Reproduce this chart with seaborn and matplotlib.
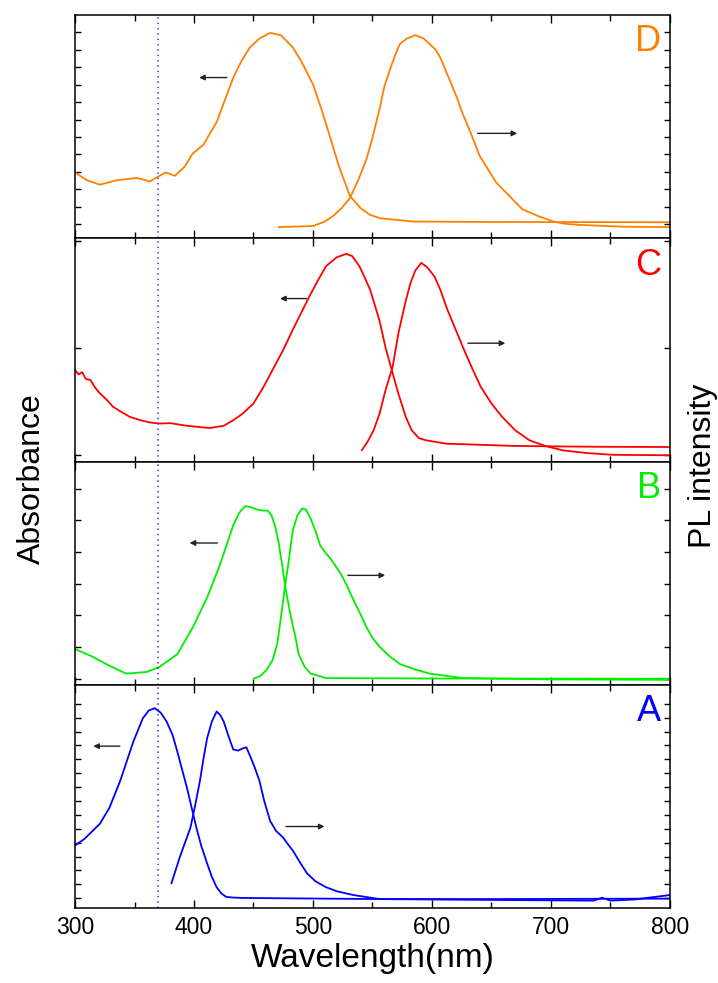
import numpy as np
import matplotlib
matplotlib.use('Agg')
import matplotlib.pyplot as plt
import seaborn as sns

# wavelength (nm) / normalised intensity (0 = panel bottom, 1 = panel top)
d_abs_x = [300, 310, 321, 335, 352, 363, 376, 384, 392, 399, 408, 419, 426, 433, 440, 447, 455, 464, 473, 483, 490, 500, 507, 514, 522, 531, 540, 548, 556, 584, 650, 800]
d_abs_y = [0.295, 0.26, 0.24, 0.26, 0.27, 0.255, 0.295, 0.28, 0.32, 0.38, 0.42, 0.52, 0.62, 0.72, 0.795, 0.855, 0.895, 0.92, 0.91, 0.855, 0.795, 0.69, 0.58, 0.46, 0.32, 0.19, 0.135, 0.105, 0.09, 0.075, 0.073, 0.072]
d_pl_x = [471, 500, 510, 517, 524, 531, 538, 545, 550, 556, 560, 565, 569, 573, 579, 586, 593, 598, 603, 607, 614, 621, 626, 632, 640, 647, 654, 665, 676, 689, 702, 712, 724, 760, 800]
d_pl_y = [0.05, 0.055, 0.075, 0.1, 0.135, 0.18, 0.26, 0.355, 0.45, 0.58, 0.68, 0.76, 0.82, 0.87, 0.895, 0.91, 0.895, 0.87, 0.845, 0.81, 0.72, 0.63, 0.555, 0.48, 0.37, 0.31, 0.25, 0.19, 0.13, 0.10, 0.075, 0.065, 0.06, 0.052, 0.05]

c_abs_x = [300, 303, 306, 309, 313, 317, 321, 326, 332, 338, 346, 355, 363, 371, 380, 394, 413, 425, 433, 441, 450, 458, 466, 475, 483, 490, 497, 504, 511, 520, 528, 533, 539, 543, 548, 552, 556, 561, 567, 572, 578, 583, 589, 595, 612, 640, 668, 700, 740, 800]
c_abs_y = [0.41, 0.39, 0.40, 0.37, 0.365, 0.33, 0.305, 0.28, 0.245, 0.225, 0.2, 0.185, 0.175, 0.17, 0.172, 0.16, 0.15, 0.16, 0.185, 0.215, 0.26, 0.33, 0.41, 0.50, 0.59, 0.665, 0.74, 0.81, 0.875, 0.915, 0.93, 0.92, 0.875, 0.83, 0.77, 0.70, 0.63, 0.51, 0.395, 0.30, 0.2, 0.14, 0.105, 0.095, 0.08, 0.075, 0.07, 0.068, 0.066, 0.065]
c_pl_x = [541, 546, 551, 556, 561, 567, 572, 578, 582, 586, 591, 596, 602, 607, 613, 620, 627, 634, 641, 650, 659, 670, 682, 695, 710, 730, 752, 800]
c_pl_y = [0.05, 0.09, 0.14, 0.215, 0.32, 0.425, 0.58, 0.72, 0.80, 0.855, 0.89, 0.87, 0.83, 0.77, 0.68, 0.59, 0.5, 0.415, 0.335, 0.26, 0.2, 0.14, 0.095, 0.07, 0.05, 0.038, 0.03, 0.028]

b_abs_x = [300, 315, 329, 343, 360, 371, 386, 399, 411, 422, 433, 438, 443, 448, 453, 458, 462, 465, 468, 471, 474, 477, 481, 485, 488, 493, 498, 511, 600, 800]
b_abs_y = [0.16, 0.125, 0.085, 0.05, 0.057, 0.08, 0.137, 0.257, 0.39, 0.54, 0.715, 0.77, 0.8, 0.795, 0.785, 0.78, 0.78, 0.76, 0.715, 0.64, 0.54, 0.43, 0.315, 0.22, 0.137, 0.08, 0.05, 0.03, 0.028, 0.027]
b_pl_x = [450, 456, 461, 466, 470, 473, 476, 480, 483, 487, 491, 494, 498, 502, 506, 510, 514, 518, 523, 528, 534, 540, 545, 550, 556, 565, 573, 585, 598, 626, 700, 800]
b_pl_y = [0.027, 0.04, 0.067, 0.11, 0.185, 0.30, 0.42, 0.57, 0.69, 0.76, 0.79, 0.785, 0.745, 0.69, 0.625, 0.595, 0.57, 0.54, 0.5, 0.45, 0.38, 0.315, 0.257, 0.21, 0.17, 0.125, 0.093, 0.07, 0.05, 0.03, 0.024, 0.022]

a_abs_x = [300, 308, 321, 329, 338, 349, 357, 362, 367, 372, 377, 382, 386, 390, 394, 398, 402, 406, 411, 415, 419, 423, 427, 432, 441, 600, 736, 743, 750, 770, 800]
a_abs_y = [0.28, 0.31, 0.378, 0.45, 0.57, 0.745, 0.85, 0.885, 0.895, 0.875, 0.835, 0.775, 0.7, 0.62, 0.54, 0.45, 0.36, 0.28, 0.2, 0.14, 0.093, 0.065, 0.05, 0.047, 0.045, 0.038, 0.033, 0.046, 0.033, 0.038, 0.058]
a_pl_x = [381, 388, 397, 401, 405, 408, 411, 415, 419, 422, 425, 429, 433, 437, 441, 444, 448, 451, 455, 459, 464, 469, 475, 479, 483, 489, 495, 502, 511, 520, 534, 556, 650, 800]
a_pl_y = [0.11, 0.227, 0.36, 0.46, 0.57, 0.67, 0.76, 0.835, 0.88, 0.865, 0.835, 0.77, 0.71, 0.705, 0.715, 0.72, 0.67, 0.63, 0.57, 0.48, 0.39, 0.345, 0.315, 0.285, 0.258, 0.205, 0.155, 0.12, 0.093, 0.075, 0.058, 0.04, 0.04, 0.042]

panels = [
    ('D', '#ff8000', d_abs_x, d_abs_y, d_pl_x, d_pl_y),
    ('C', '#ff0000', c_abs_x, c_abs_y, c_pl_x, c_pl_y),
    ('B', '#00ee00', b_abs_x, b_abs_y, b_pl_x, b_pl_y),
    ('A', '#0000ff', a_abs_x, a_abs_y, a_pl_x, a_pl_y),
]
# arrows: (x_start, x_end, y) for absorbance (left) and PL (right)
arrows = {
    'D': [(430, 402, 0.72), (636, 674, 0.47)],
    'C': [(497, 470, 0.73), (628, 664, 0.53)],
    'B': [(422, 394, 0.635), (527, 563, 0.49)],
    'A': [(340, 313, 0.725), (475, 512, 0.365)],
}
yticks = {
    'D': np.arange(0.064, 0.95, 0.078),
    'C': [0.027, 0.51, 0.99],
    'B': np.arange(0.027, 0.9, 0.142),
    'A': np.arange(0.044, 0.95, 0.0622),
}
excitation = 370

sns.set_style('ticks')
plt.rcParams['font.family'] = ['Liberation Sans', 'DejaVu Sans']
plt.rcParams['text.color'] = 'black'
plt.rcParams['axes.labelcolor'] = 'black'
plt.rcParams['xtick.color'] = 'black'
plt.rcParams['ytick.color'] = 'black'

fig, axes = plt.subplots(4, 1, sharex=True, figsize=(7.18, 9.83), dpi=100)
fig.subplots_adjust(left=0.1045, right=0.933, top=0.9847, bottom=0.0763, hspace=0)

for ax, (name, col, ax_x, ax_y, pl_x, pl_y) in zip(axes, panels):
    sns.lineplot(x=ax_x, y=ax_y, ax=ax, color=col, lw=1.3, sort=False)
    sns.lineplot(x=pl_x, y=pl_y, ax=ax, color=col, lw=1.3, sort=False)
    ax.axvline(excitation, color='#3333ff', ls=(0, (1, 2.5)), lw=1.1)
    for x0, x1, y in arrows[name]:
        ax.annotate('', xy=(x1, y), xytext=(x0, y),
                    arrowprops=dict(arrowstyle='-|>', color='#222222', lw=1, mutation_scale=8))
    ax.text(0.985, 0.88, name, transform=ax.transAxes, color=col, fontsize=26,
            ha='right', va='center')
    ax.set_xlim(300, 800)
    ax.set_ylim(0, 1)
    ax.set_yticks(yticks[name])
    ax.set_yticklabels([])
    ax.set_xticks(np.arange(300, 801, 100))
    ax.set_xticks(np.arange(350, 800, 100), minor=True)
    ax.tick_params(axis='both', which='both', direction='in', top=True, right=True, width=1)
    ax.tick_params(axis='x', which='major', length=6)
    ax.tick_params(axis='x', which='minor', length=4)
    ax.tick_params(axis='y', length=4)
    for s in ax.spines.values():
        s.set_linewidth(1.1)
        s.set_color('black')

axes[-1].tick_params(axis='x', labelsize=16.5, pad=6)
axes[-1].set_xlabel('Wavelength(nm)', fontsize=24, labelpad=3)
fig.text(0.045, 0.513, 'Absorbance', rotation=90, fontsize=23, ha='center', va='center')
fig.text(0.979, 0.526, 'PL intensity', rotation=90, fontsize=23, ha='center', va='center')

fig.savefig('out.png', dpi=100)
